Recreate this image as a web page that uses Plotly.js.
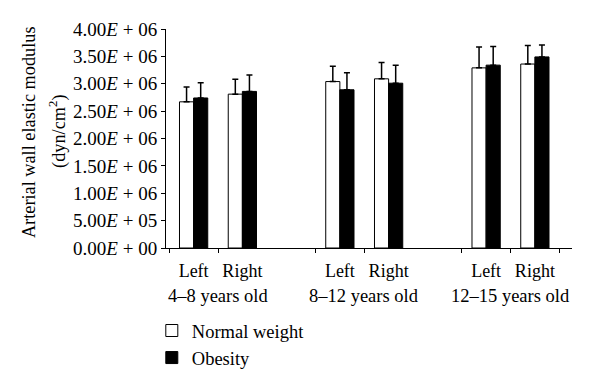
<!DOCTYPE html>
<html>
<head>
<meta charset="utf-8">
<script src="https://cdn.plot.ly/plotly-3.0.1.min.js"></script>
<style>html,body{margin:0;padding:0;background:#fff;}#chart{width:600px;height:389px;}</style>
</head>
<body>
<div id="chart"></div>
<script>
// ---- data ----
var categories = ["4-8 L", "4-8 R", "gap1", "8-12 L", "8-12 R", "gap2", "12-15 L", "12-15 R"];
var labelledCats = ["4-8 L", "4-8 R", "8-12 L", "8-12 R", "12-15 L", "12-15 R"];
var tickLabels = ["Left", "Right", "Left", "Right", "Left", "Right"];
var ageGroups = ["4\u20138 years old", "8\u201312 years old", "12\u201315 years old"];
var ageGroupPos = [0.5, 3.5, 6.5];
var normalWeight = [2.67e6, 2.81e6, null, 3.04e6, 3.09e6, null, 3.29e6, 3.36e6];
var normalErr    = [0.27e6, 0.27e6, null, 0.28e6, 0.30e6, null, 0.38e6, 0.34e6];
var obesity      = [2.74e6, 2.86e6, null, 2.89e6, 3.01e6, null, 3.34e6, 3.49e6];
var obesityErr   = [0.28e6, 0.30e6, null, 0.31e6, 0.33e6, null, 0.34e6, 0.22e6];
var yTickVals = [0, 5e5, 1e6, 1.5e6, 2e6, 2.5e6, 3e6, 3.5e6, 4e6];
var yTickText = ["0.00<i>E</i> + 00", "5.00<i>E</i> + 05", "1.00<i>E</i> + 06", "1.50<i>E</i> + 06",
                 "2.00<i>E</i> + 06", "2.50<i>E</i> + 06", "3.00<i>E</i> + 06", "3.50<i>E</i> + 06", "4.00<i>E</i> + 06"];
var yTitleLines = ["Arterial wall elastic modulus", "(dyn/cm<sup>2</sup>)"];

var FONT = "Liberation Serif, Times New Roman, serif";
var zeros = normalWeight.map(function(){ return 0; });

var traces = [
  {
    type: "bar", name: "Normal weight", x: categories, y: normalWeight,
    marker: {color: "#ffffff", line: {color: "#000000", width: 1}},
    error_y: {type: "data", symmetric: false, array: normalErr, arrayminus: zeros,
              color: "#000000", thickness: 1.5, width: 3}
  },
  {
    type: "bar", name: "Obesity", x: categories, y: obesity,
    marker: {color: "#000000", line: {color: "#000000", width: 1}},
    error_y: {type: "data", symmetric: false, array: obesityErr, arrayminus: zeros,
              color: "#000000", thickness: 1.5, width: 3}
  }
];

var annotations = ageGroups.map(function(t, i){
  return {text: t, x: ageGroupPos[i], xref: "x", y: 0, yref: "paper", yshift: -48,
          showarrow: false, xanchor: "center", yanchor: "middle",
          font: {family: FONT, size: 18.5, color: "#000"}};
});
// y-axis title, two lines rotated
var titleX = [-0.337, -0.266];
yTitleLines.forEach(function(t, i){
  annotations.push({text: t, x: titleX[i], xref: "paper", y: 0.53, yref: "paper",
    textangle: -90, showarrow: false, xanchor: "center", yanchor: "middle",
    font: {family: FONT, size: 18.3, color: "#000"}});
});

var layout = {
  width: 600, height: 389,
  margin: {l: 166, r: 28, t: 29, b: 141, pad: 0, autoexpand: false},
  paper_bgcolor: "#fff", plot_bgcolor: "#fff",
  font: {family: FONT, size: 18, color: "#000"},
  barmode: "group", bargap: 0.42, bargroupgap: 0,
  showlegend: true,
  legend: {xref: "container", yref: "container", x: 0.253, xanchor: "left", y: 0.198, yanchor: "top",
           orientation: "v", font: {family: FONT, size: 18.5, color: "#000"}, tracegroupgap: 0,
           bgcolor: "rgba(0,0,0,0)"},
  xaxis: {
    type: "category", categoryorder: "array", categoryarray: categories,
    tickmode: "array", tickvals: labelledCats, ticktext: tickLabels,
    tickson: "boundaries", ticks: "outside", ticklen: 4, tickcolor: "#000",
    tickangle: 0, ticklabelstandoff: 6, automargin: false,
    showline: true, linecolor: "#000", linewidth: 1, showgrid: false, zeroline: false,
    tickfont: {family: FONT, size: 18, color: "#000"}, fixedrange: true
  },
  yaxis: {
    range: [0, 4e6], tickmode: "array", tickvals: yTickVals, ticktext: yTickText,
    ticks: "outside", ticklen: 4, tickcolor: "#000", automargin: false,
    showline: true, linecolor: "#000", linewidth: 1, showgrid: false, zeroline: false,
    tickfont: {family: FONT, size: 19, color: "#000"},
    fixedrange: true
  },
  annotations: annotations
};

Plotly.newPlot("chart", traces, layout, {displayModeBar: false, staticPlot: true});
</script>
</body>
</html>
